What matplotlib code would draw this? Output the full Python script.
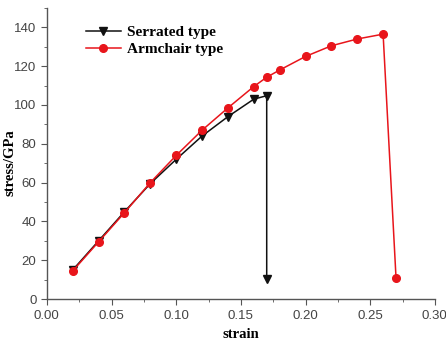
import matplotlib
matplotlib.use("Agg")
import matplotlib.pyplot as plt
from matplotlib.ticker import MultipleLocator

# Stress-strain data for the two edge configurations
strain_serrated = [0.02, 0.04, 0.06, 0.08, 0.10, 0.12, 0.14, 0.16, 0.17, 0.17]
stress_serrated = [15.0, 30.0, 45.0, 59.5, 72.0, 84.0, 94.0, 103.0, 104.8, 10.5]

strain_armchair = [0.02, 0.04, 0.06, 0.08, 0.10, 0.12, 0.14, 0.16, 0.17, 0.18,
                   0.20, 0.22, 0.24, 0.26, 0.27]
stress_armchair = [14.5, 29.5, 44.5, 60.0, 74.0, 87.0, 98.5, 109.5, 114.3, 118.0,
                   125.0, 130.5, 134.0, 136.5, 10.7]

series_labels = ["Serrated type", "Armchair type"]

fig = plt.figure(figsize=(4.46, 3.45), dpi=100)
ax = fig.add_axes([0.105, 0.133, 0.87, 0.844])

ax.plot(strain_serrated, stress_serrated, color="#111111", lw=1.1,
        marker="v", ms=5.5, label=series_labels[0])
ax.plot(strain_armchair, stress_armchair, color="#e8151b", lw=1.1,
        marker="o", ms=5.5, label=series_labels[1])

ax.set_xlim(0, 0.30)
ax.set_ylim(0, 150)
ax.xaxis.set_major_locator(MultipleLocator(0.05))
ax.xaxis.set_minor_locator(MultipleLocator(0.025))
ax.yaxis.set_major_locator(MultipleLocator(20))
ax.yaxis.set_minor_locator(MultipleLocator(10))
ax.set_yticks(range(0, 141, 20))
ax.set_xticklabels([f"{v:.2f}" for v in ax.get_xticks()])

for side in ("top", "right"):
    ax.spines[side].set_visible(False)
for side in ("left", "bottom"):
    ax.spines[side].set_color("#555555")
    ax.spines[side].set_linewidth(1.0)

ax.tick_params(axis="both", which="major", direction="out", length=4,
               color="#555555", labelsize=9.5, labelcolor="#444444")
ax.tick_params(axis="both", which="minor", direction="out", length=2.5,
               color="#555555")
for lab in ax.get_xticklabels() + ax.get_yticklabels():
    lab.set_family("Liberation Sans")

serif_bold = dict(family="Liberation Serif", weight="bold", size=10.5)
ax.set_xlabel("strain", fontdict=serif_bold, labelpad=5)
ax.set_ylabel("stress/GPa", fontdict=serif_bold)
ax.yaxis.set_label_coords(-0.078, 0.47)

leg = ax.legend(loc="upper left", bbox_to_anchor=(0.085, 0.96), frameon=False,
                prop=dict(family="Liberation Serif", weight="bold", size=11),
                handlelength=2.3, handletextpad=0.4, labelspacing=0.2,
                borderaxespad=0)

fig.savefig("out.png", dpi=100)
